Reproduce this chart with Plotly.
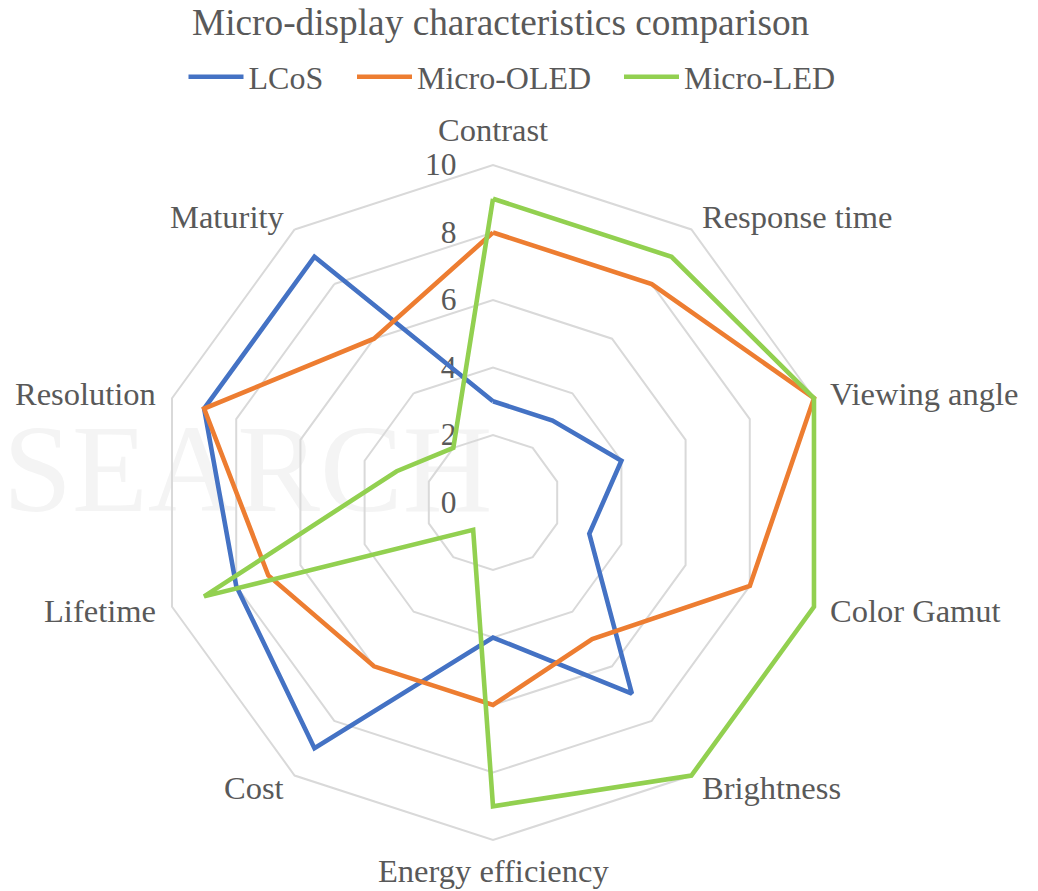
import math
import plotly.graph_objects as go

categories = ["Contrast", "Response time", "Viewing angle", "Color Gamut", "Brightness",
              "Energy efficiency", "Cost", "Lifetime", "Resolution", "Maturity"]
lcos = [3, 3, 4, 3, 7, 4, 9, 8, 9, 9]
micro_oled = [8, 8, 10, 8, 5, 6, 6, 7, 9, 6]
micro_led = [9, 9, 10, 10, 10, 9, 1, 9, 3, 2]
series_names = ["LCoS", "Micro-OLED", "Micro-LED"]
series_colors = ["#4472c4", "#ed7d31", "#92d050"]
radial_ticks = [0, 2, 4, 6, 8, 10]
r_max = 10.15  # a little headroom so lines on the outer ring are not clipped

W, H = 1038, 891
FONT = "Liberation Serif"
TEXT = "#595959"
GRID = "#d9d9d9"

# polar area: centre (493, 502.5) px, outer ring (value 10) at 337.5 px
cx, cy, rad = 493, 502.5, 337.5
rad_dom = rad * r_max / 10
dom_x = [(cx - rad_dom) / W, (cx + rad_dom) / W]
dom_y = [(H - cy - rad_dom) / H, (H - cy + rad_dom) / H]

fig = go.Figure()
legend_ids = ["legend2", "legend3", "legend4"]
for name, vals, col, lg in zip(series_names, [lcos, micro_oled, micro_led], series_colors, legend_ids):
    fig.add_trace(go.Scatterpolar(
        r=vals + vals[:1],
        theta=categories + categories[:1],
        mode="lines",
        name=name,
        legend=lg,
        cliponaxis=False,
        line=dict(color=col, width=4.6),
    ))

# category labels sit just outside each polygon vertex
annotations = []
for i, cat in enumerate(categories):
    a = math.radians(360 * i / len(categories))
    s, c = math.sin(a), math.cos(a)
    gap = 11 if c < -0.9 else 15
    px = cx + (rad + gap) * s
    py = cy - (rad + gap) * c
    xa = "center" if abs(s) < 0.1 else ("left" if s > 0 else "right")
    ya = "bottom" if c > 0.9 else ("top" if c < -0.9 else "middle")
    annotations.append(dict(
        text=cat, x=px / W, y=1 - py / H, xref="paper", yref="paper",
        xanchor=xa, yanchor=ya, showarrow=False,
        font=dict(size=32.5, color=TEXT, family=FONT),
    ))

annotations.append(dict(
    text="Micro-display characteristics comparison",
    x=500.5 / W, y=1 - 22 / H, xref="paper", yref="paper",
    xanchor="center", yanchor="middle", showarrow=False,
    font=dict(size=37.3, color=TEXT, family=FONT),
))

legend_style = dict(
    orientation="h", y=1 - 77 / H, yanchor="middle", xanchor="left",
    font=dict(size=32, color=TEXT, family=FONT),
    itemwidth=55, bgcolor="rgba(0,0,0,0)",
)

fig.update_layout(
    width=W, height=H,
    margin=dict(l=0, r=0, t=0, b=0),
    paper_bgcolor="white",
    font=dict(family=FONT, color=TEXT, size=31),
    polar=dict(
        domain=dict(x=dom_x, y=dom_y),
        bgcolor="rgba(0,0,0,0)",
        gridshape="linear",
        angularaxis=dict(
            rotation=90, direction="clockwise", layer="below traces",
            showgrid=False, showline=False, ticks="", showticklabels=False,
        ),
        radialaxis=dict(
            range=[0, r_max], tickvals=radial_ticks, angle=90, tickangle=90,
            side="counterclockwise", layer="below traces",
            showline=False, ticks="outside", ticklen=25, tickcolor="rgba(0,0,0,0)",
            showgrid=True, gridcolor=GRID, gridwidth=1.5,
            tickfont=dict(size=31.5, color=TEXT, family=FONT),
        ),
    ),
    legend2=dict(legend_style, x=183.5 / W),
    legend3=dict(legend_style, x=352 / W),
    legend4=dict(legend_style, x=619 / W),
    annotations=annotations,
    shapes=[dict(
        type="rect", xref="paper", yref="paper", layer="below",
        x0=0, x1=0.6, y0=1 - 515 / H, y1=1 - 395 / H,
        line=dict(width=0), fillcolor="rgba(0,0,0,0)",
        label=dict(text="SEARCH", textposition="middle left", padding=0,
                   font=dict(size=124, color="#f4f4f4", family=FONT)),
    )],
)

fig.write_html("out.html")
